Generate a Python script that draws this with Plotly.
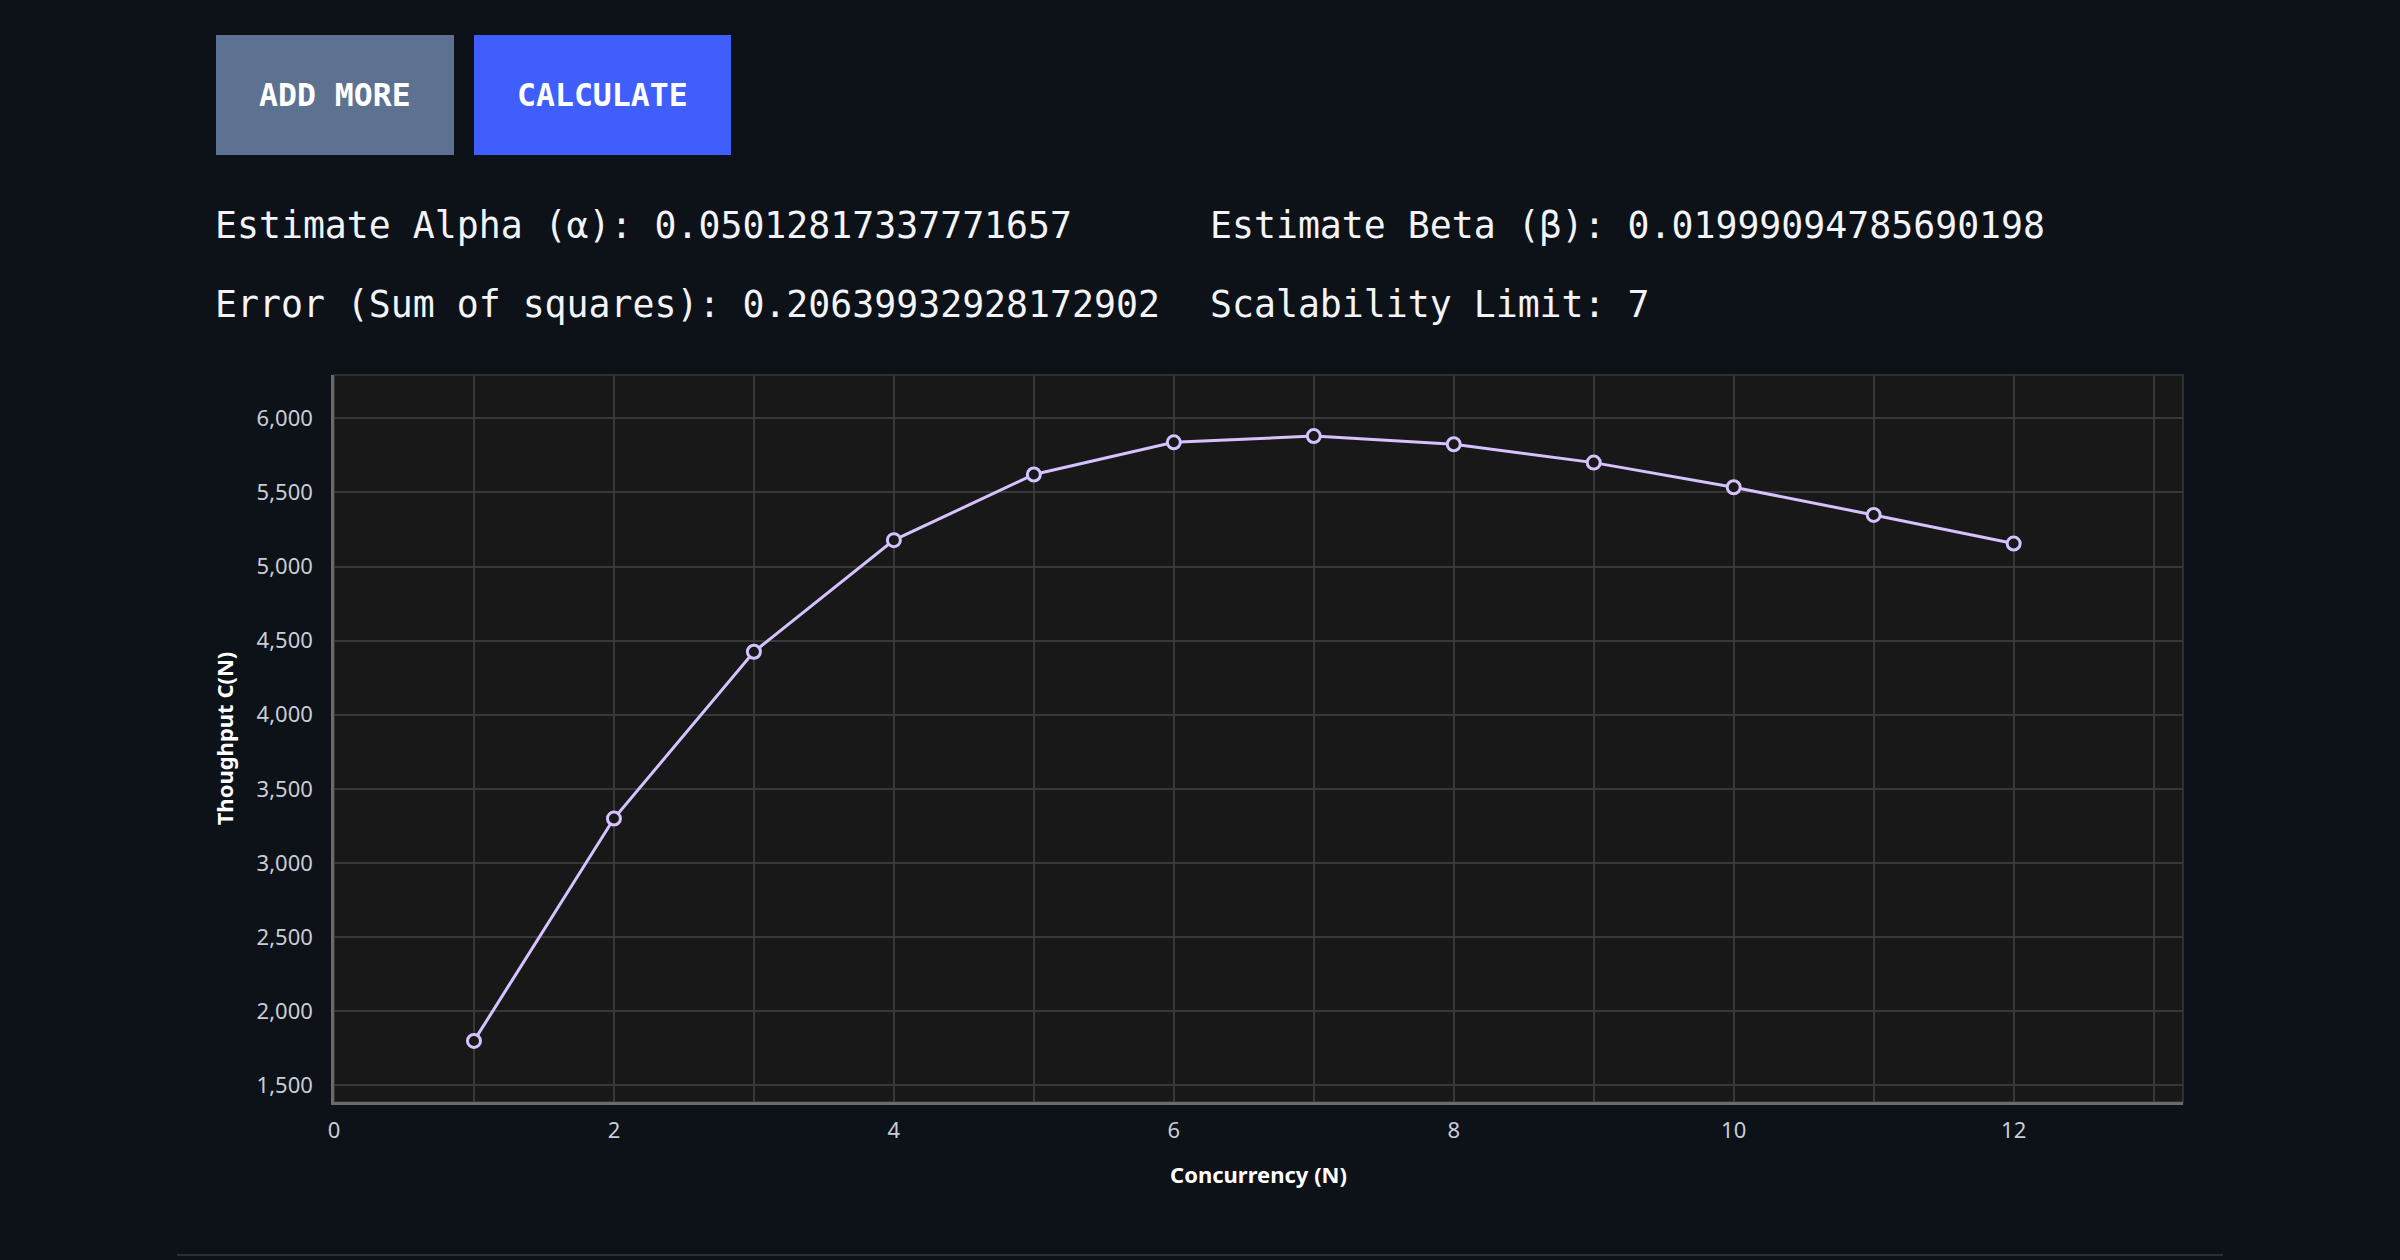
import plotly.graph_objects as go

# ---- data ----
concurrency = [1, 2, 3, 4, 5, 6, 7, 8, 9, 10, 11, 12]
throughput = [1800, 3300, 4425, 5178, 5621, 5838, 5880, 5825, 5701, 5535, 5348, 5155]

x_tick_vals = [0, 2, 4, 6, 8, 10, 12]
y_tick_vals = [1500, 2000, 2500, 3000, 3500, 4000, 4500, 5000, 5500, 6000]

info_lines = [
    ["Estimate Alpha (α): 0.05012817337771657", "Estimate Beta (β): 0.01999094785690198"],
    ["Error (Sum of squares): 0.20639932928172902", "Scalability Limit: 7"],
]
buttons = ["ADD MORE", "CALCULATE"]

# ---- layout geometry (pixels) ----
W, H = 2400, 1260
L, R, T, B = 334, 2183, 375, 1102

PAGE_BG = "#0d1118"
PLOT_BG = "#181818"
GRID = "#383838"
AXIS = "#6a6a6a"
LINE = "#d6c2ff"


def px(x):
    return (x - L) / (R - L)


def py(y):
    return (B - y) / (B - T)


fig = go.Figure()
fig.add_trace(go.Scatter(
    x=concurrency, y=throughput, mode="lines+markers",
    line=dict(color=LINE, width=3),
    marker=dict(size=13, color=PLOT_BG, line=dict(color=LINE, width=3)),
    hoverinfo="x+y", showlegend=False,
))

shapes = []
annotations = []

# plot border
shapes.append(dict(type="rect", xref="paper", yref="paper", x0=0, x1=1, y0=0, y1=1,
                   line=dict(color=GRID, width=1.5), layer="below"))

# buttons
btn_boxes = [(216, 454, "#5d7290"), (474, 731, "#3f5efb")]
for (x0, x1, col), label in zip(btn_boxes, buttons):
    shapes.append(dict(type="rect", xref="paper", yref="paper",
                       x0=px(x0), x1=px(x1), y0=py(155), y1=py(35),
                       fillcolor=col, line=dict(width=0), layer="above"))
    annotations.append(dict(xref="paper", yref="paper", x=px((x0 + x1) / 2), y=py(95),
                            text="<b>%s</b>" % label, showarrow=False,
                            xanchor="center", yanchor="middle",
                            font=dict(family="DejaVu Sans Mono", size=31.5, color="#ffffff")))

# info text lines
col_x = [213, 1208]
row_y = [225, 305]
for r, row in enumerate(info_lines):
    for c, txt in enumerate(row):
        annotations.append(dict(xref="paper", yref="paper", x=px(col_x[c]), y=py(row_y[r]),
                                text=txt, showarrow=False, xanchor="left", yanchor="middle",
                                font=dict(family="DejaVu Sans Mono", size=36.5, color="#f2f4f7")))

# bottom divider
shapes.append(dict(type="line", xref="paper", yref="paper",
                   x0=px(177), x1=px(2223), y0=py(1255), y1=py(1255),
                   line=dict(color="#2b3038", width=2)))

fig.update_layout(
    width=W, height=H,
    margin=dict(l=L, r=W - R, t=T, b=H - B, pad=0),
    paper_bgcolor=PAGE_BG, plot_bgcolor=PLOT_BG,
    font=dict(family="Noto Sans", color="#c9ced6", size=22),
    shapes=shapes, annotations=annotations,
    xaxis=dict(
        range=[0, 13.21], tickvals=x_tick_vals, ticktext=[str(v) for v in x_tick_vals],
        showgrid=True, gridcolor=GRID, gridwidth=1.5,
        minor=dict(dtick=1, tick0=0, showgrid=True, gridcolor=GRID, gridwidth=1.5),
        showline=True, linecolor=AXIS, linewidth=2.5, zeroline=False,
        ticks="", ticklabelstandoff=7,
        tickfont=dict(size=22, color="#c9ced6"),
        title=dict(text="<b>Concurrency (N)</b>", standoff=25,
                   font=dict(size=22, color="#ffffff")),
    ),
    yaxis=dict(
        range=[1388, 6292], tickvals=y_tick_vals, tickformat=",",
        showgrid=True, gridcolor=GRID, gridwidth=1.5,
        showline=True, linecolor=AXIS, linewidth=2.5, zeroline=False,
        ticks="", ticklabelstandoff=14,
        tickfont=dict(size=22, color="#c9ced6"),
        title=dict(text="<b>Thoughput C(N)</b>", standoff=17,
                   font=dict(size=22, color="#ffffff")),
    ),
)

fig.write_html("out.html")
